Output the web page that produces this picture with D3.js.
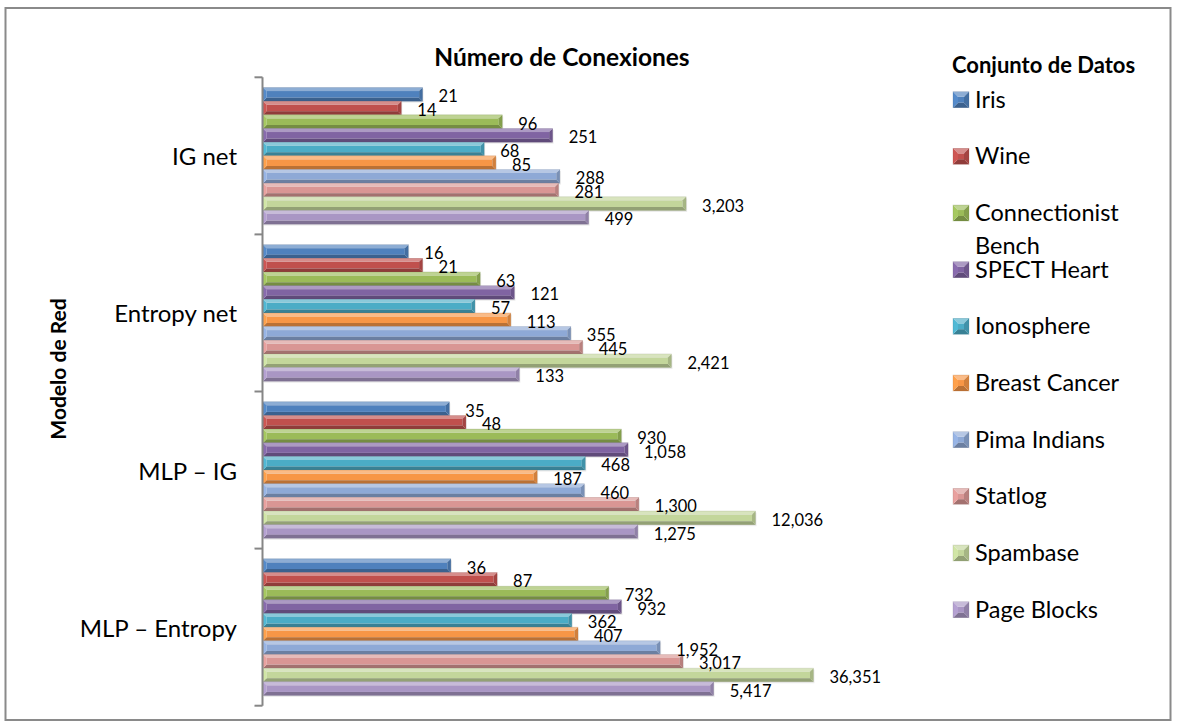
<!DOCTYPE html>
<html>
<head>
<meta charset="utf-8">
<script src="https://cdn.jsdelivr.net/npm/d3@7"></script>
<style>
  html, body { margin: 0; padding: 0; background: #fff; }
  svg { display: block; font-family: Lato, "Open Sans", sans-serif; }
</style>
</head>
<body>
<svg id="chart" width="1177" height="727"></svg>
<script>
// Network models (one group of bars each), top to bottom
const models = ["IG net", "Entropy net", "MLP – IG", "MLP – Entropy"];

// Datasets (one bar per dataset inside each group), top to bottom
const datasets = ["Iris", "Wine", "Connectionist Bench", "SPECT Heart", "Ionosphere",
                  "Breast Cancer", "Pima Indians", "Statlog", "Spambase", "Page Blocks"];

// Number of connections per model, in dataset order
const igNet       = [21, 14, 96, 251, 68, 85, 288, 281, 3203, 499];
const entropyNet  = [16, 21, 63, 121, 57, 113, 355, 445, 2421, 133];
const mlpIG       = [35, 48, 930, 1058, 468, 187, 460, 1300, 12036, 1275];
const mlpEntropy  = [36, 87, 732, 932, 362, 407, 1952, 3017, 36351, 5417];

const seriesColors = ["#4F81BD", "#C0504D", "#9BBB59", "#8064A2", "#4BACC6",
                      "#F79646", "#8EA9D6", "#D99694", "#C3D69B", "#A996C4"];

const chartTitle = "Número de Conexiones";
const axisTitle = "Modelo de Red";
const legendTitle = "Conjunto de Datos";

const valuesByModel = [igNet, entropyNet, mlpIG, mlpEntropy];
const rows = [];
models.forEach((m, gi) => {
  datasets.forEach((d, si) => rows.push({ model: m, dataset: d, si, value: valuesByModel[gi][si] }));
});

const svg = d3.select("#chart");

// Outer frame
svg.append("rect")
  .attr("x", 5.5).attr("y", 8).attr("width", 1165).attr("height", 712)
  .attr("fill", "#fff").attr("stroke", "#8a8a8a").attr("stroke-width", 2);

// Scales
const x = d3.scaleLog().domain([1, 100000]).range([263, 866.5]);
const y0 = d3.scaleBand().domain(models).range([77.3, 705.7]).paddingInner(0).paddingOuter(0);
const y1 = d3.scaleBand().domain(datasets).range([0, y0.bandwidth()]).paddingInner(0).paddingOuter(0.75);

// Bevelled bar drawing: centre face plus four slanted edges
function bevel(g, x0, x1, top, h, color, b) {
  const c = d3.color(color);
  const yb = top + h;
  const faces = [
    { pts: [[x0, top], [x1, top], [x1 - b, top + b], [x0 + b, top + b]], fill: d3.interpolateRgb(c, "#fff")(0.35) },
    { pts: [[x0, yb], [x1, yb], [x1 - b, yb - b], [x0 + b, yb - b]], fill: c.darker(0.8) },
    { pts: [[x0, top], [x0 + b, top + b], [x0 + b, yb - b], [x0, yb]], fill: c.brighter(0.2) },
    { pts: [[x1, top], [x1 - b, top + b], [x1 - b, yb - b], [x1, yb]], fill: c.darker(0.45) }
  ];
  g.append("rect")
    .attr("x", x0 + b).attr("y", top + b)
    .attr("width", Math.max(0, x1 - x0 - 2 * b)).attr("height", Math.max(0, h - 2 * b))
    .attr("fill", color);
  faces.forEach(f => {
    g.append("polygon")
      .attr("points", f.pts.map(p => p.join(",")).join(" "))
      .attr("fill", f.fill);
  });
  g.append("rect")
    .attr("x", x0).attr("y", top).attr("width", x1 - x0).attr("height", h)
    .attr("fill", "none").attr("stroke", c.darker(1)).attr("stroke-opacity", 0.35).attr("stroke-width", 0.6);
}

// Bars
const barLayer = svg.append("g");
rows.forEach(r => {
  const top = y0(r.model) + y1(r.dataset);
  const g = barLayer.append("g");
  // soft shadow under each bar
  g.append("rect")
    .attr("x", x(1) + 1).attr("y", top + 1.5)
    .attr("width", x(r.value) - x(1)).attr("height", y1.bandwidth())
    .attr("fill", "#000").attr("opacity", 0.08);
  bevel(g, x(1), x(r.value), top, y1.bandwidth(), seriesColors[r.si], 3.5);
});

// Value labels
const fmt = d3.format(",");
svg.append("g").selectAll("text").data(rows).join("text")
  .attr("x", d => x(d.value) + 16)
  .attr("y", d => y0(d.model) + y1(d.dataset) + y1.bandwidth() / 2 + 2)
  .attr("dominant-baseline", "central")
  .attr("font-size", 16.5)
  .attr("fill", "#000")
  .text(d => fmt(d.value));

// Category axis: spine plus tick marks at the group boundaries
const axisG = svg.append("g").attr("transform", `translate(${x(1) - 0.5},0)`);
axisG.append("line")
  .attr("x1", 0).attr("x2", 0).attr("y1", y0.range()[0]).attr("y2", y0.range()[1])
  .attr("stroke", "#868686").attr("stroke-width", 2);
const tickYs = models.map(m => y0(m)).concat([y0.range()[1]]);
axisG.selectAll("line.tick").data(tickYs).join("line")
  .attr("class", "tick")
  .attr("x1", -8).attr("x2", 0).attr("y1", d => d).attr("y2", d => d)
  .attr("stroke", "#868686").attr("stroke-width", 2);

svg.append("g").selectAll("text").data(models).join("text")
  .attr("x", 237)
  .attr("y", d => y0(d) + y0.bandwidth() / 2)
  .attr("text-anchor", "end")
  .attr("dominant-baseline", "central")
  .attr("font-size", 24)
  .attr("fill", "#000")
  .text(d => d);

// Axis title
svg.append("text")
  .attr("transform", "translate(66,369) rotate(-90)")
  .attr("text-anchor", "middle")
  .attr("font-size", 21).attr("font-weight", "bold")
  .attr("fill", "#000")
  .text(axisTitle);

// Chart title
svg.append("text")
  .attr("x", 562).attr("y", 66)
  .attr("text-anchor", "middle")
  .attr("font-size", 24.5).attr("font-weight", "bold")
  .attr("fill", "#000")
  .text(chartTitle);

// Legend
const legend = svg.append("g");
legend.append("text")
  .attr("x", 952).attr("y", 73)
  .attr("font-size", 22).attr("font-weight", "bold")
  .attr("fill", "#000")
  .text(legendTitle);

const legendY = d3.scalePoint().domain(datasets).range([91.7, 601.7]);
datasets.forEach((d, i) => {
  const top = legendY(d);
  const g = legend.append("g");
  bevel(g, 953, 969, top, 16, seriesColors[i], 5);
  const t = g.append("text")
    .attr("x", 975).attr("y", top + 16)
    .attr("font-size", 23.5)
    .attr("fill", "#000");
  const words = d === "Connectionist Bench" ? ["Connectionist", "Bench"] : [d];
  words.forEach((w, k) => {
    t.append("tspan").attr("x", 975).attr("dy", k === 0 ? 0 : 33).text(w);
  });
});
</script>
</body>
</html>
